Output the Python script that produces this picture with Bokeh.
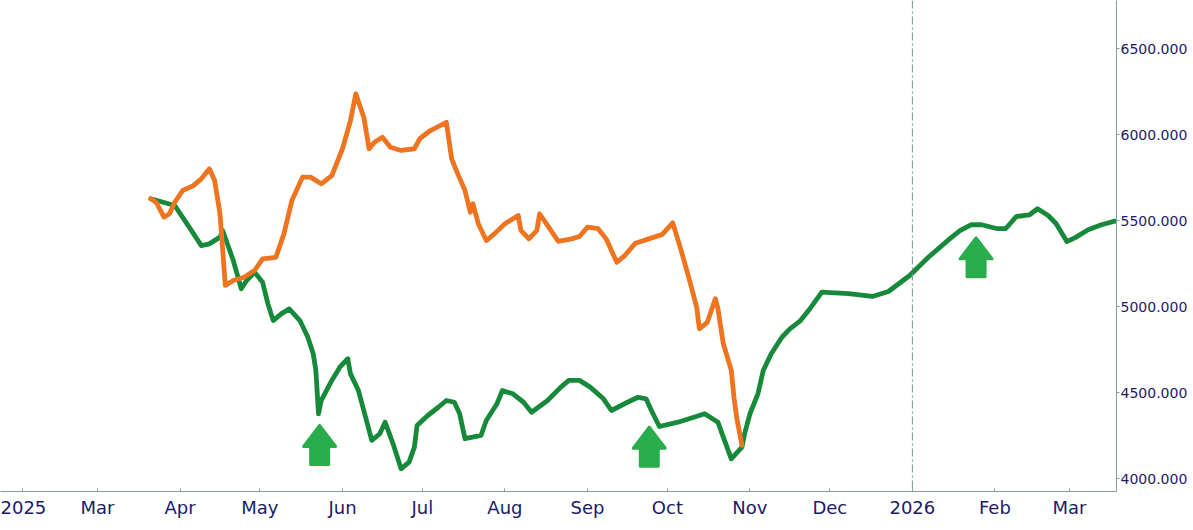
import pandas as pd
from bokeh.plotting import figure
from bokeh.models import Range1d, FixedTicker, NumeralTickFormatter, Span
from bokeh.embed import file_html
from bokeh.resources import INLINE

# ---------------- data ----------------
green_dates = [
    "2025-03-21", "2025-03-30", "2025-04-04", "2025-04-09", "2025-04-12", "2025-04-16",
    "2025-04-17", "2025-04-21", "2025-04-24", "2025-04-26", "2025-04-29", "2025-05-02",
    "2025-05-04", "2025-05-06", "2025-05-09", "2025-05-12", "2025-05-16", "2025-05-19",
    "2025-05-21", "2025-05-22", "2025-05-23", "2025-05-24", "2025-05-28", "2025-05-31",
    "2025-06-03", "2025-06-04", "2025-06-07", "2025-06-09", "2025-06-12", "2025-06-15",
    "2025-06-17", "2025-06-20", "2025-06-23", "2025-06-26", "2025-06-28", "2025-06-29",
    "2025-07-03", "2025-07-07", "2025-07-10", "2025-07-13", "2025-07-15", "2025-07-17",
    "2025-07-23", "2025-07-25", "2025-07-29", "2025-07-31", "2025-08-04", "2025-08-08",
    "2025-08-11", "2025-08-17", "2025-08-22", "2025-08-25", "2025-08-29", "2025-09-02",
    "2025-09-07", "2025-09-10", "2025-09-16", "2025-09-20", "2025-09-23", "2025-09-25",
    "2025-09-28", "2025-10-05", "2025-10-15", "2025-10-20", "2025-10-22", "2025-10-25",
    "2025-10-29", "2025-10-30", "2025-11-01", "2025-11-04", "2025-11-06", "2025-11-09",
    "2025-11-13", "2025-11-16", "2025-11-20", "2025-11-23", "2025-11-28", "2025-12-08",
    "2025-12-17", "2025-12-23", "2025-12-26", "2025-12-31", "2026-01-07", "2026-01-15",
    "2026-01-19", "2026-01-23", "2026-01-27", "2026-02-02", "2026-02-05", "2026-02-09",
    "2026-02-14", "2026-02-17", "2026-02-21", "2026-02-24", "2026-02-28", "2026-03-03",
    "2026-03-08", "2026-03-13", "2026-03-18",
]
green_values = [
    5628, 5589, 5473, 5356, 5366, 5405,
    5444, 5269, 5105, 5153, 5201, 5143,
    5017, 4920, 4959, 4988, 4920, 4823,
    4727, 4630, 4378, 4455, 4572, 4649,
    4698, 4610, 4513, 4397, 4223, 4262,
    4329, 4203, 4058, 4097, 4184, 4310,
    4368, 4416, 4455, 4445, 4378, 4233,
    4252, 4339, 4436, 4513, 4494, 4445,
    4387, 4455, 4533, 4572, 4572, 4533,
    4465, 4397, 4445, 4474, 4465, 4397,
    4304, 4329, 4378, 4329, 4242, 4116,
    4184, 4262, 4378, 4494, 4630, 4727,
    4823, 4872, 4920, 4978, 5085, 5076,
    5060, 5089, 5124, 5182, 5288, 5395,
    5444, 5477, 5477, 5454, 5454, 5525,
    5535, 5570, 5531, 5483, 5380, 5401,
    5448, 5477, 5498,
]

orange_dates = [
    "2025-03-21", "2025-03-23", "2025-03-26", "2025-03-28", "2025-03-30", "2025-04-02",
    "2025-04-06", "2025-04-09", "2025-04-12", "2025-04-14", "2025-04-16", "2025-04-18",
    "2025-04-21", "2025-04-25", "2025-04-29", "2025-05-02", "2025-05-07", "2025-05-10",
    "2025-05-13", "2025-05-17", "2025-05-20", "2025-05-24", "2025-05-28", "2025-06-01",
    "2025-06-04", "2025-06-06", "2025-06-09", "2025-06-11", "2025-06-13", "2025-06-16",
    "2025-06-19", "2025-06-23", "2025-06-28", "2025-06-30", "2025-07-04", "2025-07-10",
    "2025-07-12", "2025-07-14", "2025-07-17", "2025-07-19", "2025-07-20", "2025-07-22",
    "2025-07-25", "2025-07-28", "2025-08-01", "2025-08-06", "2025-08-07", "2025-08-10",
    "2025-08-13", "2025-08-14", "2025-08-17", "2025-08-21", "2025-08-26", "2025-08-29",
    "2025-09-01", "2025-09-05", "2025-09-08", "2025-09-12", "2025-09-15", "2025-09-19",
    "2025-09-24", "2025-09-29", "2025-10-03", "2025-10-06", "2025-10-09", "2025-10-12",
    "2025-10-13", "2025-10-16", "2025-10-19", "2025-10-20", "2025-10-22", "2025-10-25",
    "2025-10-26", "2025-10-27", "2025-10-29",
]
orange_values = [
    5628, 5608, 5521, 5541, 5608, 5676,
    5705, 5744, 5802, 5734, 5541, 5124,
    5153, 5172, 5211, 5279, 5288, 5424,
    5618, 5754, 5754, 5715, 5763, 5919,
    6083, 6238, 6102, 5919, 5957, 5986,
    5928, 5909, 5919, 5977, 6025, 6073,
    5860, 5783, 5676, 5550, 5599, 5483,
    5385, 5424, 5483, 5531, 5444, 5395,
    5444, 5541, 5473, 5381, 5395, 5409,
    5463, 5454, 5395, 5259, 5298, 5370,
    5395, 5420, 5488, 5337, 5172, 4998,
    4872, 4910, 5047, 4988, 4785, 4630,
    4474, 4358, 4194,
]

arrow_dates = ["2025-05-23 10:00", "2025-09-24 05:00", "2026-01-24 22:00"]
arrow_tips = [4310, 4300, 5401]

tick_dates = [
    "2025-02-01", "2025-03-01", "2025-04-01", "2025-05-01", "2025-06-01", "2025-07-01",
    "2025-08-01", "2025-09-01", "2025-10-01", "2025-11-01", "2025-12-01", "2026-01-01",
    "2026-02-01", "2026-03-01",
]
tick_labels = ["2025", "Mar", "Apr", "May", "Jun", "Jul", "Aug", "Sep", "Oct", "Nov",
               "Dec", "2026", "Feb", "Mar"]
y_ticks = [4000, 4500, 5000, 5500, 6000, 6500]
marker_date = "2026-01-01"

x_start_date = "2025-01-23 14:00"
x_end_date = "2026-03-18 15:30"
y_start, y_end = 3926, 6781

# ---------------- helpers ----------------
def ms(d):
    return pd.Timestamp(d).value / 1e6

GREEN = "#168a3a"
ORANGE = "#ee7420"
ARROW = "#29ad4b"
AXIS = "#7f9f9f"
TEXT = "#1b1b6b"

W, H = 1192, 530
RIGHT, BOTTOM = 76, 39
FRAME_W, FRAME_H = W - RIGHT, H - BOTTOM

p = figure(width=W, height=H, x_axis_type="datetime", y_axis_location="right",
           output_backend="svg", toolbar_location=None,
           x_range=Range1d(ms(x_start_date), ms(x_end_date)),
           y_range=Range1d(y_start, y_end),
           min_border_left=0, min_border_top=0,
           min_border_right=RIGHT, min_border_bottom=BOTTOM)
p.background_fill_color = "white"
p.border_fill_color = "white"
p.outline_line_color = None
p.grid.visible = False

# vertical dash-dot line at the year boundary
p.add_layout(Span(location=ms(marker_date), dimension="height", line_color="#6f9494",
                  line_width=1, line_dash="8 3 2 3"))

# series
p.line([pd.Timestamp(d) for d in green_dates], green_values, line_color=GREEN,
       line_width=4.8, line_join="round", line_cap="round")
p.line([pd.Timestamp(d) for d in orange_dates], orange_values, line_color=ORANGE,
       line_width=4.8, line_join="round", line_cap="round")

# up arrows (shape in screen pixels, anchored at data tip)
px_per_ms = FRAME_W / (ms(x_end_date) - ms(x_start_date))
px_per_unit = FRAME_H / (y_end - y_start)
shape = [(0, 0), (16, 21), (9, 21), (9, 39), (-9, 39), (-9, 21), (-16, 21)]
axs, ays = [], []
for d, t in zip(arrow_dates, arrow_tips):
    cx = ms(d)
    axs.append([cx + sx / px_per_ms for sx, sy in shape])
    ays.append([t - sy / px_per_unit for sx, sy in shape])
p.patches(axs, ays, fill_color=ARROW, line_color=ARROW, line_width=3, line_join="round")

for ax in (p.xaxis, p.yaxis):
    ax.axis_label = None
    ax.minor_tick_line_color = None
    ax.axis_line_color = AXIS
    ax.major_tick_line_color = AXIS
    ax.major_label_text_color = TEXT
    ax.major_label_text_font = "DejaVu Sans"

# x axis
p.xaxis.ticker = FixedTicker(ticks=[ms(d) for d in tick_dates])
p.xaxis.major_label_overrides = {ms(d): lab for d, lab in zip(tick_dates, tick_labels)}
p.xaxis.major_tick_in = 3
p.xaxis.major_tick_out = 0
p.xaxis.major_label_text_font_size = "18px"
p.xaxis.major_label_standoff = 5

# y axis
p.yaxis.ticker = FixedTicker(ticks=y_ticks)
p.yaxis.formatter = NumeralTickFormatter(format="0.000")
p.yaxis.major_tick_in = 0
p.yaxis.major_tick_out = 3
p.yaxis.major_label_text_font_size = "14px"
p.yaxis.major_label_standoff = 1

open("out.html", "w").write(file_html(p, INLINE))
